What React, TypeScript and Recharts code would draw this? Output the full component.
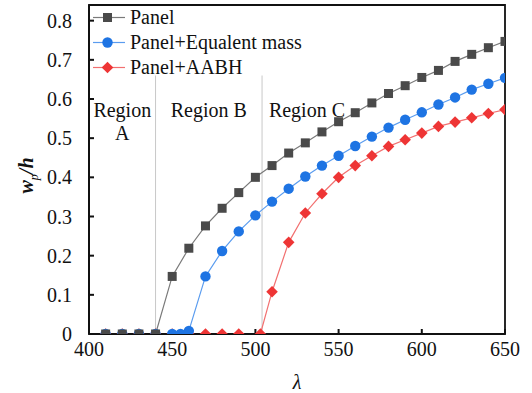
import React from "react";
import {
  LineChart,
  Line,
  XAxis,
  YAxis,
  ReferenceLine,
  ReferenceDot,
  ReferenceArea,
} from "recharts";

const panelLambda = [410, 420, 430, 440, 450, 460, 470, 480, 490, 500, 510, 520, 530, 540, 550, 560, 570, 580, 590, 600, 610, 620, 630, 640, 650];
const panelValues = [0, 0, 0, 0, 0.147, 0.219, 0.276, 0.321, 0.361, 0.4, 0.43, 0.462, 0.488, 0.516, 0.542, 0.565, 0.59, 0.614, 0.634, 0.655, 0.673, 0.696, 0.714, 0.731, 0.747];

const massLambda = [410, 420, 430, 440, 450, 455, 460, 470, 480, 490, 500, 510, 520, 530, 540, 550, 560, 570, 580, 590, 600, 610, 620, 630, 640, 650];
const massValues = [0, 0, 0, 0, 0, 0, 0.008, 0.147, 0.212, 0.262, 0.303, 0.338, 0.371, 0.402, 0.43, 0.455, 0.48, 0.504, 0.527, 0.547, 0.566, 0.586, 0.604, 0.624, 0.639, 0.654];

const aabhLambda = [410, 420, 430, 440, 450, 460, 470, 480, 490, 503, 510, 520, 530, 540, 550, 560, 570, 580, 590, 600, 610, 620, 630, 640, 650];
const aabhValues = [0, 0, 0, 0, 0, 0, 0, 0, 0, 0, 0.108, 0.234, 0.309, 0.358, 0.4, 0.43, 0.455, 0.479, 0.496, 0.513, 0.53, 0.541, 0.552, 0.563, 0.573];

const xTicks = [400, 450, 500, 550, 600, 650];
const yTicks = [0, 0.1, 0.2, 0.3, 0.4, 0.5, 0.6, 0.7, 0.8];
const regionBounds = [440, 504];

const zip = (xs: number[], ys: number[]) => xs.map((x, i) => ({ x, y: ys[i] }));
const panelData = zip(panelLambda, panelValues);
const massData = zip(massLambda, massValues);
const aabhData = zip(aabhLambda, aabhValues);

const FONT = "Liberation Serif, serif";

const GRAY = "#4a4a4a";
const GRAY_LINE = "#7a7a7a";
const BLUE = "#1e74e3";
const BLUE_LINE = "#5a9cef";
const RED = "#ee3535";
const RED_LINE = "#f27070";

const Square = (props: any) => {
  const { cx, cy, key } = props;
  if (cx == null || cy == null) return null;
  return <rect key={key} x={cx - 4.5} y={cy - 4.5} width={9} height={9} fill={GRAY} />;
};

const Circle = (props: any) => {
  const { cx, cy, key } = props;
  if (cx == null || cy == null) return null;
  return <circle key={key} cx={cx} cy={cy} r={5.2} fill={BLUE} />;
};

const Diamond = (props: any) => {
  const { cx, cy, key } = props;
  if (cx == null || cy == null) return null;
  const s = 5.8;
  return (
    <polygon
      key={key}
      points={`${cx},${cy - s} ${cx + s},${cy} ${cx},${cy + s} ${cx - s},${cy}`}
      fill={RED}
    />
  );
};

const YLabel = (props: any) => {
  const vb = props.viewBox || { x: 0, y: 0, width: 0, height: 0 };
  const cx = vb.x + 33;
  const cy = vb.y + vb.height / 2 + 6;
  return (
    <text
      x={cx}
      y={cy}
      transform={`rotate(-90, ${cx}, ${cy})`}
      textAnchor="middle"
      fontFamily={FONT}
      fontSize={20}
      fontStyle="italic"
      fontWeight="bold"
      fill="#111"
    >
      w<tspan fontSize={12} fontWeight="normal" dy={5}>p</tspan>
      <tspan dy={-5}>/h</tspan>
    </text>
  );
};

const legendItems = [
  { name: "Panel", line: GRAY_LINE, marker: <rect x={10} y={5} width={9} height={9} fill={GRAY} /> },
  { name: "Panel+Equalent mass", line: BLUE_LINE, marker: <circle cx={14.5} cy={9.5} r={5.2} fill={BLUE} /> },
  { name: "Panel+AABH", line: RED_LINE, marker: <polygon points="14.5,3.7 20.3,9.5 14.5,15.3 8.7,9.5" fill={RED} /> },
];

const regionLabel = { fontFamily: FONT, fontSize: 20, fill: "#111" };

export default function App() {
  return (
    <div style={{ position: "absolute", left: 0, top: 0, width: 532, height: 393, background: "#fff" }}>
      <LineChart width={532} height={393} margin={{ top: 5, right: 27, bottom: 0, left: 0 }}>
        <ReferenceArea x1={400} x2={650} y1={0} y2={0.84} fill="none" stroke="#111" strokeWidth={1.8} />
        {regionBounds.map((b) => (
          <ReferenceLine
            key={b}
            segment={[{ x: b, y: 0 }, { x: b, y: 0.66 }]}
            stroke="#c8c8c8"
            strokeWidth={1}
          />
        ))}
        <ReferenceDot x={420} y={0.573} r={0} fill="none" stroke="none" label={{ value: "Region", position: "center", ...regionLabel }} />
        <ReferenceDot x={420} y={0.514} r={0} fill="none" stroke="none" label={{ value: "A", position: "center", ...regionLabel }} />
        <ReferenceDot x={472} y={0.573} r={0} fill="none" stroke="none" label={{ value: "Region B", position: "center", ...regionLabel }} />
        <ReferenceDot x={531} y={0.573} r={0} fill="none" stroke="none" label={{ value: "Region C", position: "center", ...regionLabel }} />
        <XAxis
          dataKey="x"
          type="number"
          domain={[400, 650]}
          ticks={xTicks}
          allowDataOverflow
          height={59}
          axisLine={{ stroke: "#111", strokeWidth: 2 }}
          tickLine={{ stroke: "#111", strokeWidth: 2 }}
          tickSize={-5}
          tickMargin={13}
          tick={{ fontFamily: FONT, fontSize: 20, fill: "#111" }}
          label={{ value: "λ", position: "insideBottom", offset: 4, fontFamily: FONT, fontSize: 20, fontStyle: "italic", fill: "#111" }}
        />
        <YAxis
          dataKey="y"
          type="number"
          domain={[0, 0.84]}
          ticks={yTicks}
          allowDataOverflow
          width={89}
          axisLine={{ stroke: "#111", strokeWidth: 2 }}
          tickLine={{ stroke: "#111", strokeWidth: 2 }}
          tickSize={-5}
          tickMargin={22}
          tickFormatter={(v: number) => (v === 0 ? "0" : v.toFixed(1))}
          tick={{ fontFamily: FONT, fontSize: 20, fill: "#111" }}
          label={<YLabel />}
        />
        <Line data={aabhData} dataKey="y" stroke={RED_LINE} strokeWidth={1.2} dot={<Diamond />} isAnimationActive={false} />
        <Line data={massData} dataKey="y" stroke={BLUE_LINE} strokeWidth={1.2} dot={<Circle />} isAnimationActive={false} />
        <Line data={panelData} dataKey="y" stroke={GRAY_LINE} strokeWidth={1.2} dot={<Square />} isAnimationActive={false} />
      </LineChart>
      <div style={{ position: "absolute", left: 93, top: 5, fontFamily: FONT, fontSize: 20, color: "#111", lineHeight: "25px" }}>
        {legendItems.map((it) => (
          <div key={it.name} style={{ display: "flex", alignItems: "center", height: 25 }}>
            <svg width={36} height={19} style={{ marginRight: 1 }}>
              <line x1={0} y1={9.5} x2={32} y2={9.5} stroke={it.line} strokeWidth={1.2} />
              {it.marker}
            </svg>
            <span>{it.name}</span>
          </div>
        ))}
      </div>
    </div>
  );
}
